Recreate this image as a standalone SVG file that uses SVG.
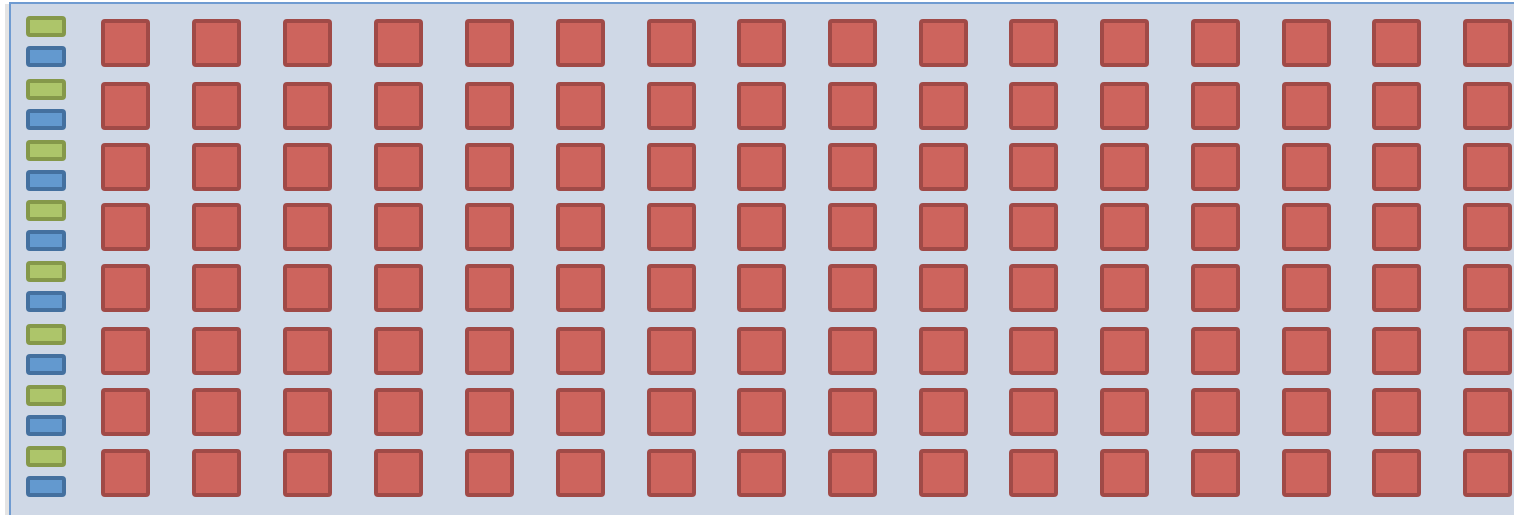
<svg xmlns="http://www.w3.org/2000/svg" width="1514" height="515" viewBox="0 0 1514 515">
<style>
.bg{fill:#cfd8e6;stroke:#6f9bd1;stroke-width:2}
.r{fill:#cd645d;stroke:#a04a47;stroke-width:4}
.g{fill:#adc56a;stroke:#85984a;stroke-width:4}
.b{fill:#6399cf;stroke:#44709f;stroke-width:4}
</style>
<rect x="5" y="4" width="4" height="520" fill="#e4e4e4"/>
<rect class="bg" x="10" y="3" width="1520" height="530"/>
<g id="legend">
<g id="g1"><rect class="g" x="28" y="18" width="36" height="17" rx="2"/></g>
<g id="b1"><rect class="b" x="28" y="48" width="36" height="17" rx="2"/></g>
<g id="g2"><rect class="g" x="28" y="81" width="36" height="17" rx="2"/></g>
<g id="b2"><rect class="b" x="28" y="111" width="36" height="17" rx="2"/></g>
<g id="g3"><rect class="g" x="28" y="142" width="36" height="17" rx="2"/></g>
<g id="b3"><rect class="b" x="28" y="172" width="36" height="17" rx="2"/></g>
<g id="g4"><rect class="g" x="28" y="202" width="36" height="17" rx="2"/></g>
<g id="b4"><rect class="b" x="28" y="232" width="36" height="17" rx="2"/></g>
<g id="g5"><rect class="g" x="28" y="263" width="36" height="17" rx="2"/></g>
<g id="b5"><rect class="b" x="28" y="293" width="36" height="17" rx="2"/></g>
<g id="g6"><rect class="g" x="28" y="326" width="36" height="17" rx="2"/></g>
<g id="b6"><rect class="b" x="28" y="356" width="36" height="17" rx="2"/></g>
<g id="g7"><rect class="g" x="28" y="387" width="36" height="17" rx="2"/></g>
<g id="b7"><rect class="b" x="28" y="417" width="36" height="17" rx="2"/></g>
<g id="g8"><rect class="g" x="28" y="448" width="36" height="17" rx="2"/></g>
<g id="b8"><rect class="b" x="28" y="478" width="36" height="17" rx="2"/></g>
</g>
<defs><rect id="sq" class="r" width="45" height="44" rx="2"/></defs>
<g id="grid">
<g id="row1" transform="translate(0,21)">
<g id="n1_1"><use href="#sq" x="103"/></g><g id="n1_2"><use href="#sq" x="194"/></g><g id="n1_3"><use href="#sq" x="285"/></g><g id="n1_4"><use href="#sq" x="376"/></g><g id="n1_5"><use href="#sq" x="467"/></g><g id="n1_6"><use href="#sq" x="558"/></g><g id="n1_7"><use href="#sq" x="649"/></g><g id="n1_8"><use href="#sq" x="739"/></g><g id="n1_9"><use href="#sq" x="830"/></g><g id="n1_10"><use href="#sq" x="921"/></g><g id="n1_11"><use href="#sq" x="1011"/></g><g id="n1_12"><use href="#sq" x="1102"/></g><g id="n1_13"><use href="#sq" x="1193"/></g><g id="n1_14"><use href="#sq" x="1284"/></g><g id="n1_15"><use href="#sq" x="1374"/></g><g id="n1_16"><use href="#sq" x="1465"/></g>
</g>
<g id="row2" transform="translate(0,84)">
<g id="n2_1"><use href="#sq" x="103"/></g><g id="n2_2"><use href="#sq" x="194"/></g><g id="n2_3"><use href="#sq" x="285"/></g><g id="n2_4"><use href="#sq" x="376"/></g><g id="n2_5"><use href="#sq" x="467"/></g><g id="n2_6"><use href="#sq" x="558"/></g><g id="n2_7"><use href="#sq" x="649"/></g><g id="n2_8"><use href="#sq" x="739"/></g><g id="n2_9"><use href="#sq" x="830"/></g><g id="n2_10"><use href="#sq" x="921"/></g><g id="n2_11"><use href="#sq" x="1011"/></g><g id="n2_12"><use href="#sq" x="1102"/></g><g id="n2_13"><use href="#sq" x="1193"/></g><g id="n2_14"><use href="#sq" x="1284"/></g><g id="n2_15"><use href="#sq" x="1374"/></g><g id="n2_16"><use href="#sq" x="1465"/></g>
</g>
<g id="row3" transform="translate(0,145)">
<g id="n3_1"><use href="#sq" x="103"/></g><g id="n3_2"><use href="#sq" x="194"/></g><g id="n3_3"><use href="#sq" x="285"/></g><g id="n3_4"><use href="#sq" x="376"/></g><g id="n3_5"><use href="#sq" x="467"/></g><g id="n3_6"><use href="#sq" x="558"/></g><g id="n3_7"><use href="#sq" x="649"/></g><g id="n3_8"><use href="#sq" x="739"/></g><g id="n3_9"><use href="#sq" x="830"/></g><g id="n3_10"><use href="#sq" x="921"/></g><g id="n3_11"><use href="#sq" x="1011"/></g><g id="n3_12"><use href="#sq" x="1102"/></g><g id="n3_13"><use href="#sq" x="1193"/></g><g id="n3_14"><use href="#sq" x="1284"/></g><g id="n3_15"><use href="#sq" x="1374"/></g><g id="n3_16"><use href="#sq" x="1465"/></g>
</g>
<g id="row4" transform="translate(0,205)">
<g id="n4_1"><use href="#sq" x="103"/></g><g id="n4_2"><use href="#sq" x="194"/></g><g id="n4_3"><use href="#sq" x="285"/></g><g id="n4_4"><use href="#sq" x="376"/></g><g id="n4_5"><use href="#sq" x="467"/></g><g id="n4_6"><use href="#sq" x="558"/></g><g id="n4_7"><use href="#sq" x="649"/></g><g id="n4_8"><use href="#sq" x="739"/></g><g id="n4_9"><use href="#sq" x="830"/></g><g id="n4_10"><use href="#sq" x="921"/></g><g id="n4_11"><use href="#sq" x="1011"/></g><g id="n4_12"><use href="#sq" x="1102"/></g><g id="n4_13"><use href="#sq" x="1193"/></g><g id="n4_14"><use href="#sq" x="1284"/></g><g id="n4_15"><use href="#sq" x="1374"/></g><g id="n4_16"><use href="#sq" x="1465"/></g>
</g>
<g id="row5" transform="translate(0,266)">
<g id="n5_1"><use href="#sq" x="103"/></g><g id="n5_2"><use href="#sq" x="194"/></g><g id="n5_3"><use href="#sq" x="285"/></g><g id="n5_4"><use href="#sq" x="376"/></g><g id="n5_5"><use href="#sq" x="467"/></g><g id="n5_6"><use href="#sq" x="558"/></g><g id="n5_7"><use href="#sq" x="649"/></g><g id="n5_8"><use href="#sq" x="739"/></g><g id="n5_9"><use href="#sq" x="830"/></g><g id="n5_10"><use href="#sq" x="921"/></g><g id="n5_11"><use href="#sq" x="1011"/></g><g id="n5_12"><use href="#sq" x="1102"/></g><g id="n5_13"><use href="#sq" x="1193"/></g><g id="n5_14"><use href="#sq" x="1284"/></g><g id="n5_15"><use href="#sq" x="1374"/></g><g id="n5_16"><use href="#sq" x="1465"/></g>
</g>
<g id="row6" transform="translate(0,329)">
<g id="n6_1"><use href="#sq" x="103"/></g><g id="n6_2"><use href="#sq" x="194"/></g><g id="n6_3"><use href="#sq" x="285"/></g><g id="n6_4"><use href="#sq" x="376"/></g><g id="n6_5"><use href="#sq" x="467"/></g><g id="n6_6"><use href="#sq" x="558"/></g><g id="n6_7"><use href="#sq" x="649"/></g><g id="n6_8"><use href="#sq" x="739"/></g><g id="n6_9"><use href="#sq" x="830"/></g><g id="n6_10"><use href="#sq" x="921"/></g><g id="n6_11"><use href="#sq" x="1011"/></g><g id="n6_12"><use href="#sq" x="1102"/></g><g id="n6_13"><use href="#sq" x="1193"/></g><g id="n6_14"><use href="#sq" x="1284"/></g><g id="n6_15"><use href="#sq" x="1374"/></g><g id="n6_16"><use href="#sq" x="1465"/></g>
</g>
<g id="row7" transform="translate(0,390)">
<g id="n7_1"><use href="#sq" x="103"/></g><g id="n7_2"><use href="#sq" x="194"/></g><g id="n7_3"><use href="#sq" x="285"/></g><g id="n7_4"><use href="#sq" x="376"/></g><g id="n7_5"><use href="#sq" x="467"/></g><g id="n7_6"><use href="#sq" x="558"/></g><g id="n7_7"><use href="#sq" x="649"/></g><g id="n7_8"><use href="#sq" x="739"/></g><g id="n7_9"><use href="#sq" x="830"/></g><g id="n7_10"><use href="#sq" x="921"/></g><g id="n7_11"><use href="#sq" x="1011"/></g><g id="n7_12"><use href="#sq" x="1102"/></g><g id="n7_13"><use href="#sq" x="1193"/></g><g id="n7_14"><use href="#sq" x="1284"/></g><g id="n7_15"><use href="#sq" x="1374"/></g><g id="n7_16"><use href="#sq" x="1465"/></g>
</g>
<g id="row8" transform="translate(0,451)">
<g id="n8_1"><use href="#sq" x="103"/></g><g id="n8_2"><use href="#sq" x="194"/></g><g id="n8_3"><use href="#sq" x="285"/></g><g id="n8_4"><use href="#sq" x="376"/></g><g id="n8_5"><use href="#sq" x="467"/></g><g id="n8_6"><use href="#sq" x="558"/></g><g id="n8_7"><use href="#sq" x="649"/></g><g id="n8_8"><use href="#sq" x="739"/></g><g id="n8_9"><use href="#sq" x="830"/></g><g id="n8_10"><use href="#sq" x="921"/></g><g id="n8_11"><use href="#sq" x="1011"/></g><g id="n8_12"><use href="#sq" x="1102"/></g><g id="n8_13"><use href="#sq" x="1193"/></g><g id="n8_14"><use href="#sq" x="1284"/></g><g id="n8_15"><use href="#sq" x="1374"/></g><g id="n8_16"><use href="#sq" x="1465"/></g>
</g>
</g>
</svg>
